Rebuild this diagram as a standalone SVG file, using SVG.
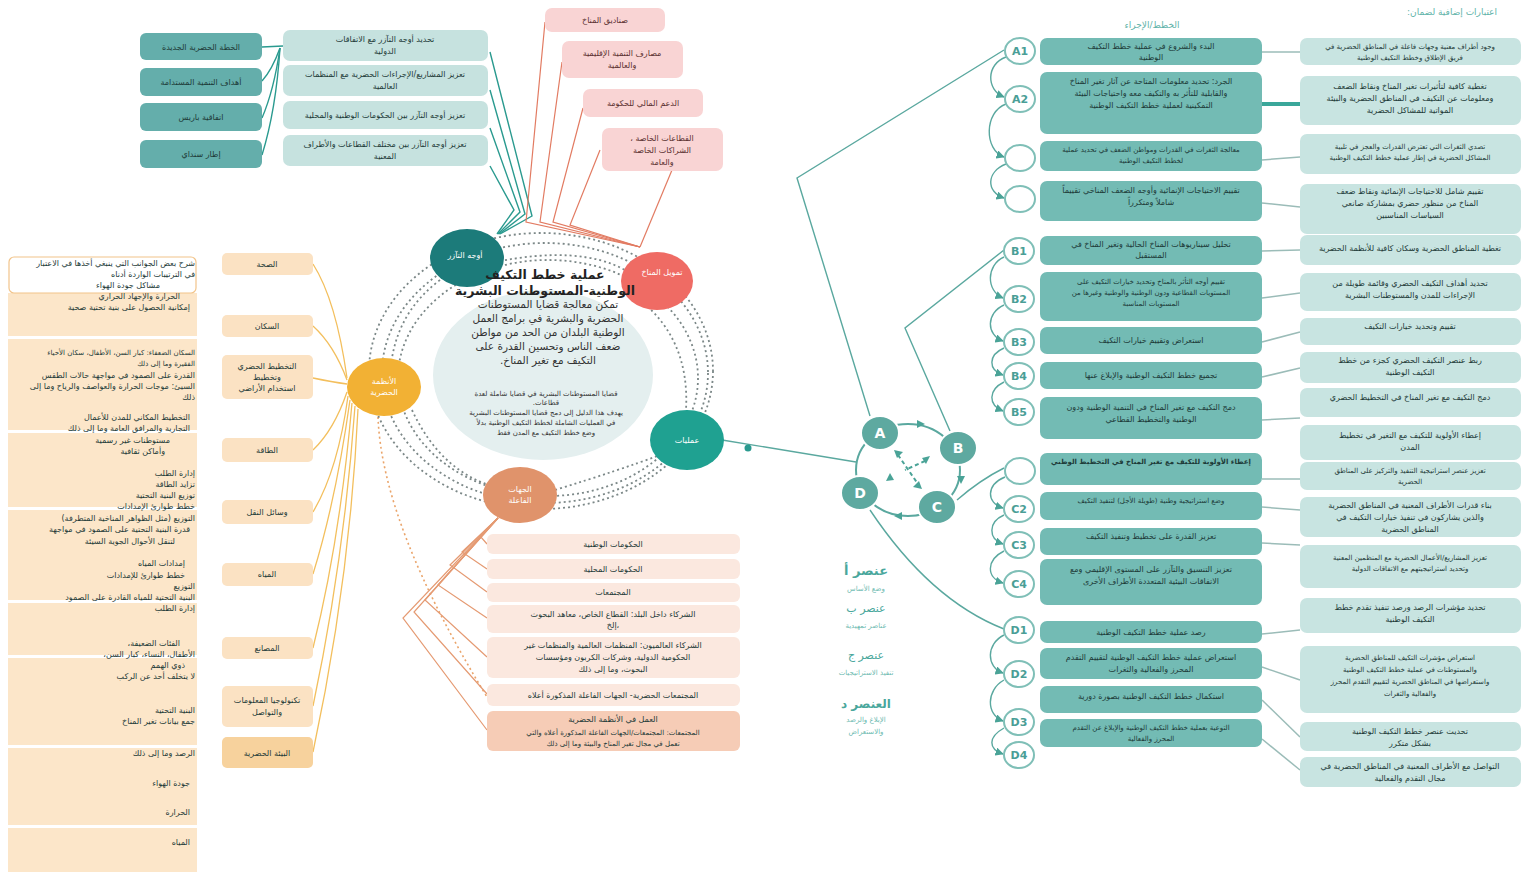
<svg xmlns="http://www.w3.org/2000/svg" width="1529" height="872" viewBox="0 0 1529 872">
<defs>
<style>
text{font-family:"DejaVu Sans","Noto Sans",sans-serif;direction:rtl;}
.c{text-anchor:middle;}
.r{text-anchor:start;}
.s7{font-size:7px;}
.s8{font-size:8px;}
.s9{font-size:9px;}
.dk{fill:#1d3a38;}
.wt{fill:#ffffff;}
.dt{fill:#64aeab;}
.lt{fill:#c6e2df;}
.pk{fill:#f9d4d4;}
.mid{fill:#73bbb4;}
.rb{fill:#c8e4e1;}
.bb{fill:#fbe8df;}
.lb{fill:#fbe2c3;}
.col{fill:#fce6c9;}
.lab{fill:#ffffff;stroke:#7fbfb7;stroke-width:2;}
.labt{font-size:11px;font-weight:bold;fill:#4a9e96;text-anchor:middle;direction:ltr;}
.dot{fill:none;stroke:#7c8888;stroke-width:1.8;stroke-dasharray:2 3;}
.tl{fill:none;stroke:#2a9a8f;stroke-width:1.4;}
.pl{fill:none;stroke:#e27b62;stroke-width:1.2;}
.yl{fill:none;stroke:#f3bf5d;stroke-width:1.3;}
.ol{fill:none;stroke:#e59a72;stroke-width:1.2;}
.gl{fill:none;stroke:#9bbcb8;stroke-width:1.5;}
.rl{fill:none;stroke:#5aa89f;stroke-width:1.4;}
.loop{fill:none;stroke:#5aa89f;stroke-width:1.4;marker-end:url(#ah);}
.node{fill:#5ea9a0;stroke:#ffffff;stroke-width:2;}
.nodet{font-size:14px;font-weight:bold;fill:#ffffff;text-anchor:middle;direction:ltr;}
</style>
<marker id="ah" viewBox="0 0 10 10" refX="9" refY="5" markerWidth="6" markerHeight="6" orient="auto-start-reverse"><path d="M0,0 L10,5 L0,10 z" fill="#4aa397"/></marker>
</defs>
<rect width="1529" height="872" fill="#ffffff"/>

<!-- connectors -->
<g id="connectors">
 <path class="tl" d="M262,47 L283,46"/>
 <path class="tl" d="M262,81 Q272,70 280,48"/>
 <path class="tl" d="M262,118 Q274,90 280,48"/>
 <path class="tl" d="M262,155 Q276,110 280,48"/>
 <path class="tl" d="M490,52 L532,216 L500,234"/>
 <path class="tl" d="M490,90 L525,214 L499,234"/>
 <path class="tl" d="M490,128 L520,212 L498,234"/>
 <path class="tl" d="M490,166 L514,210 L497,234"/>
 <path class="pl" d="M545,22 L526,222 L640,247"/>
 <path class="pl" d="M562,62 L540,222 L640,247"/>
 <path class="pl" d="M583,108 L553,222 L640,247"/>
 <path class="pl" d="M600,150 L570,225 L640,247"/>
 <path class="pl" d="M672,170 L640,247"/>
 <path class="yl" d="M313,264 Q336,300 347,378"/>
 <path class="yl" d="M313,326 Q334,345 347,380"/>
 <path class="yl" d="M313,378 Q332,382 347,384"/>
 <path class="yl" d="M313,450 Q334,430 347,392"/>
 <path class="yl" d="M313,512 Q338,470 348,396"/>
 <path class="yl" d="M313,574 Q336,500 350,400"/>
 <path class="yl" d="M313,648 Q340,540 352,403"/>
 <path class="yl" d="M313,706 Q344,560 355,406"/>
 <path class="yl" d="M313,752 Q350,580 358,409"/>
 <path fill="none" stroke="#eaa46a" stroke-width="1.6" stroke-dasharray="2 3" d="M378,417 Q382,525 487,697"/>
 <path class="ol" d="M498,518 L480,536 L487,544"/>
 <path class="ol" d="M498,518 L462,552 L487,569"/>
 <path class="ol" d="M498,518 L450,565 L487,592"/>
 <path class="ol" d="M498,518 L438,585 L487,618"/>
 <path class="ol" d="M498,518 L425,600 L487,657"/>
 <path class="ol" d="M498,518 L414,612 L487,694"/>
 <path class="ol" d="M498,518 L403,618 L487,730"/>
 <ellipse class="dot" cx="545" cy="373" rx="163" ry="130"/>
 <ellipse class="dot" cx="548" cy="378" rx="150" ry="118"/>
 <ellipse class="dot" cx="541" cy="371" rx="172" ry="138"/>
 <path class="dot" d="M640,300 Q690,340 686,410"/>
 <path class="dot" d="M412,410 Q440,470 492,486"/>
 <path class="dot" d="M440,280 Q400,310 392,358"/>
 <path class="dot" d="M555,490 Q620,470 660,455"/>
 <path class="dot" d="M495,262 Q580,245 625,270"/>
 <path class="rl" d="M722,440 L856,462"/>
 <circle cx="748" cy="448" r="3.5" fill="#2a9a8f"/>
 <ellipse cx="908" cy="470" rx="52" ry="46" fill="none" stroke="#5aa89f" stroke-width="2"/>
 <path d="M917,420 L925,424 L917,428 z" fill="#4aa397"/>
 <path d="M957,476 L961,484 L965,476 z" fill="#4aa397"/>
 <path d="M902,512 L894,516 L902,520 z" fill="#4aa397"/>
 <path fill="none" stroke="#4aa397" stroke-width="2" stroke-dasharray="4 3" d="M898,455 L918,484"/>
 <path fill="none" stroke="#4aa397" stroke-width="2" stroke-dasharray="4 3" d="M925,461 L905,470"/>
 <path d="M894,450 L903,452 L897,458 z" fill="#4aa397"/>
 <path d="M922,489 L913,487 L919,481 z" fill="#4aa397"/>
 <path d="M930,456 L926,464 L922,458 z" fill="#4aa397"/>
 <path d="M886,481 L890,473 L894,480 z" fill="#4aa397"/>
 <path class="rl" d="M870,416 L797,178 L1004,50"/>
 <path class="rl" d="M950,431 L905,328 L1004,250"/>
 <path class="rl" d="M957,500 Q980,480 1004,468"/>
 <path class="rl" d="M870,510 Q930,600 1004,629"/>
 <path class="loop" d="M1006,57 C986,64 986,90 1004,97"/>
 <path class="loop" d="M1006,104 C984,112 984,150 1004,157"/>
 <path class="loop" d="M1006,164 C986,172 986,192 1004,198"/>
 <path class="loop" d="M1004,257 C986,265 986,291 1003,298"/>
 <path class="loop" d="M1004,305 C986,313 986,335 1003,341"/>
 <path class="loop" d="M1004,348 C988,355 988,370 1003,375"/>
 <path class="loop" d="M1004,382 C988,390 988,405 1003,411"/>
 <path class="loop" d="M1005,477 C986,485 986,503 1003,508"/>
 <path class="loop" d="M1004,515 C988,522 988,539 1003,544"/>
 <path class="loop" d="M1004,551 C986,560 986,578 1003,583"/>
 <path class="loop" d="M1004,635 C986,644 986,667 1003,673"/>
 <path class="loop" d="M1004,680 C986,690 986,715 1003,721"/>
 <path class="loop" d="M1004,728 C988,737 988,749 1003,754"/>
 <path class="gl" d="M1262,52 L1300,52"/>
 <path d="M1262,104 L1300,104" stroke="#3aa79a" stroke-width="4"/>
 <path class="gl" d="M1262,160 L1300,157"/>
 <path class="gl" d="M1262,203 L1300,207"/>
 <path class="gl" d="M1262,251 L1300,250"/>
 <path class="gl" d="M1262,298 L1300,293"/>
 <path class="gl" d="M1262,342 L1300,332"/>
 <path class="gl" d="M1262,377 L1300,368"/>
 <path class="gl" d="M1262,420 L1300,418"/>
 <path class="gl" d="M1262,479 L1300,479"/>
 <path class="gl" d="M1262,507 L1300,510"/>
 <path class="gl" d="M1262,543 L1300,545"/>
 <path class="gl" d="M1262,634 L1300,630"/>
 <path class="gl" d="M1262,667 L1300,680"/>
 <path class="gl" d="M1262,700 L1300,737"/>
 <path class="gl" d="M1262,739 L1300,770"/>
</g>

<g id="agreements">
 <rect class="dt" x="140" y="33" width="122" height="27" rx="6"/>
 <text class="c s8 dk" x="201" y="50">الخطة الحضرية الجديدة</text>
 <rect class="dt" x="140" y="68" width="122" height="28" rx="6"/>
 <text class="c s8 dk" x="201" y="85">أهداف التنمية المستدامة</text>
 <rect class="dt" x="140" y="103" width="122" height="28" rx="6"/>
 <text class="c s8 dk" x="201" y="120">اتفاقية باريس</text>
 <rect class="dt" x="140" y="140" width="122" height="28" rx="6"/>
 <text class="c s8 dk" x="201" y="157">إطار سنداي</text>
</g>
<g id="synergy-items">
 <rect class="lt" x="283" y="30" width="205" height="31" rx="7"/>
 <text class="c s8 dk" x="385" y="42">تحديد أوجه التآزر مع الاتفاقات</text>
 <text class="c s8 dk" x="385" y="54">الدولية</text>
 <rect class="lt" x="283" y="65" width="205" height="31" rx="7"/>
 <text class="c s8 dk" x="385" y="77">تعزيز المشاريع/الإجراءات الحضرية مع المنظمات</text>
 <text class="c s8 dk" x="385" y="89">العالمية</text>
 <rect class="lt" x="283" y="101" width="205" height="28" rx="7"/>
 <text class="c s8 dk" x="385" y="118">تعزيز أوجه التآزر بين الحكومات الوطنية والمحلية</text>
 <rect class="lt" x="283" y="135" width="205" height="31" rx="7"/>
 <text class="c s8 dk" x="385" y="147">تعزيز أوجه التآزر بين مختلف القطاعات والأطراف</text>
 <text class="c s8 dk" x="385" y="159">المعنية</text>
</g>
<g id="finance-items">
 <rect class="pk" x="545" y="8" width="120" height="24" rx="7"/>
 <text class="c s8" fill="#5a3030" x="605" y="23">صناديق المناخ</text>
 <rect class="pk" x="562" y="41" width="121" height="37" rx="7"/>
 <text class="c s8" fill="#5a3030" x="622" y="56">مصارف التنمية الإقليمية</text>
 <text class="c s8" fill="#5a3030" x="622" y="68">والعالمية</text>
 <rect class="pk" x="583" y="89" width="120" height="28" rx="7"/>
 <text class="c s8" fill="#5a3030" x="643" y="106">الدعم المالي للحكومة</text>
 <rect class="pk" x="602" y="128" width="121" height="43" rx="7"/>
 <text class="c s8" fill="#5a3030" x="662" y="141">القطاعات الخاصة ،</text>
 <text class="c s8" fill="#5a3030" x="662" y="153">الشراكات الخاصة</text>
 <text class="c s8" fill="#5a3030" x="662" y="165">والعامة</text>
</g>

<g id="center-disc">
 <ellipse cx="543" cy="375" rx="110" ry="85" fill="#e4efef"/>
</g>
<g id="node-synergy">
 <ellipse cx="467" cy="258" rx="37" ry="29" fill="#1c7b7a"/>
 <text class="c s8 wt" x="465" y="258">أوجه التآزر</text>
</g>
<g id="node-finance">
 <ellipse cx="657" cy="281" rx="36" ry="29" fill="#ef6b64"/>
 <text class="c s8 wt" x="662" y="275">تمويل المناخ</text>
</g>
<g id="node-operations">
 <ellipse cx="687" cy="440" rx="37" ry="30" fill="#1fa191"/>
 <text class="c s8 wt" x="687" y="443">عمليات</text>
</g>
<g id="node-actors">
 <ellipse cx="520" cy="495" rx="37" ry="28" fill="#e0936b"/>
 <text class="c s8 wt" x="520" y="492">الجهات</text>
 <text class="c s8 wt" x="520" y="503">الفاعلة</text>
</g>
<g id="node-urban">
 <ellipse cx="384" cy="387" rx="37" ry="29" fill="#f2b134"/>
 <text class="c s8 wt" x="384" y="384">الأنظمة</text>
 <text class="c s8 wt" x="384" y="395">الحضرية</text>
</g>
<g id="center">
 <text class="c" x="545" y="279" font-size="12.5" font-weight="bold" fill="#222">عملية خطط التكيف</text>
 <text class="c" x="545" y="295" font-size="12.5" font-weight="bold" fill="#222">الوطنية-المستوطنات البشرية</text>
 <text class="c" x="548" y="308" font-size="10.5" fill="#333">تمكن معالجة قضايا المستوطنات</text>
 <text class="c" x="548" y="322" font-size="10.5" fill="#333">الحضرية والبشرية في برامج العمل</text>
 <text class="c" x="548" y="336" font-size="10.5" fill="#333">الوطنية البلدان من الحد من مواطن</text>
 <text class="c" x="548" y="350" font-size="10.5" fill="#333">ضعف الناس وتحسين القدرة على</text>
 <text class="c" x="548" y="364" font-size="10.5" fill="#333">التكيف مع تغير المناخ.</text>
 <text class="c s7" x="546" y="396" fill="#333">قضايا المستوطنات البشرية في قضايا شاملة لعدة</text>
 <text class="c s7" x="546" y="405" fill="#333">قطاعات.</text>
 <text class="c s7" x="546" y="415" fill="#333">يهدف هذا الدليل إلى دمج قضايا المستوطنات البشرية</text>
 <text class="c s7" x="546" y="425" fill="#333">في العمليات الشاملة لخطط التكيف الوطنية بدلاً</text>
 <text class="c s7" x="546" y="435" fill="#333">وضع خطط التكيف مع المدن فقط</text>
</g>

<g id="urban-labels">
 <rect class="lb" x="222" y="253" width="91" height="22" rx="5"/>
 <text class="c s8 dk" x="267" y="267">الصحة</text>
 <rect class="lb" x="222" y="315" width="91" height="22" rx="5"/>
 <text class="c s8 dk" x="267" y="329">السكان</text>
 <rect class="lb" x="222" y="355" width="91" height="44" rx="5"/>
 <text class="c s8 dk" x="267" y="369">التخطيط الحضري</text>
 <text class="c s8 dk" x="267" y="380">وتخطيط</text>
 <text class="c s8 dk" x="267" y="391">استخدام الأراضي</text>
 <rect class="lb" x="222" y="438" width="91" height="24" rx="5"/>
 <text class="c s8 dk" x="267" y="453">الطاقة</text>
 <rect class="lb" x="222" y="500" width="91" height="24" rx="5"/>
 <text class="c s8 dk" x="267" y="515">وسائل النقل</text>
 <rect class="lb" x="222" y="563" width="91" height="23" rx="5"/>
 <text class="c s8 dk" x="267" y="577">المياه</text>
 <rect class="lb" x="222" y="637" width="91" height="22" rx="5"/>
 <text class="c s8 dk" x="267" y="651">المصانع</text>
 <rect class="lb" x="222" y="686" width="91" height="41" rx="5"/>
 <text class="c s8 dk" x="267" y="703">تكنولوجيا المعلومات</text>
 <text class="c s8 dk" x="267" y="715">والتواصل</text>
 <rect x="222" y="737" width="91" height="31" rx="5" fill="#f7d29d"/>
 <text class="c s8 dk" x="267" y="756">البيئة الحضرية</text>
</g>

<g id="urban-details">
 <rect class="col" x="8" y="293" width="189" height="43"/>
 <rect class="col" x="8" y="339" width="189" height="91"/>
 <rect class="col" x="8" y="433" width="189" height="74"/>
 <rect class="col" x="8" y="510" width="189" height="90"/>
 <rect class="col" x="8" y="603" width="189" height="52"/>
 <rect class="col" x="8" y="658" width="189" height="87"/>
 <rect class="col" x="8" y="748" width="189" height="77"/>
 <rect class="col" x="8" y="828" width="189" height="44"/>
 <rect x="9" y="257" width="187" height="36" rx="5" fill="#ffffff" stroke="#f2c48a" stroke-width="1.2"/>
 <text class="r s8 dk" x="195" y="266">شرح بعض الجوانب التي ينبغي أخذها في الاعتبار</text>
 <text class="r s8 dk" x="195" y="277">في الترتيبات الواردة أدناه</text>
 <text class="r s8 dk" x="160" y="288">مشاكل جودة الهواء</text>
 <text class="r s8 dk" x="180" y="299">الحرارة والإجهاد الحراري</text>
 <text class="r s8 dk" x="190" y="310">إمكانية الحصول على بنية تحتية صحية</text>
 <text class="r s7 dk" x="195" y="355">السكان الضعفاء: كبار السن، الأطفال، سكان الأحياء</text>
 <text class="r s7 dk" x="195" y="366">الفقيرة وما إلى ذلك</text>
 <text class="r s8 dk" x="195" y="378">القدرة على الصمود في مواجهة حالات الطقس</text>
 <text class="r s8 dk" x="195" y="389">السيئ: موجات الحرارة والعواصف والرياح وما إلى</text>
 <text class="r s8 dk" x="195" y="400">ذلك</text>
 <text class="r s8 dk" x="190" y="420">التخطيط المكاني للمدن للأعمال</text>
 <text class="r s8 dk" x="190" y="431">التجارية والمرافق العامة وما إلى ذلك</text>
 <text class="r s8 dk" x="170" y="443">مستوطنات غير رسمية</text>
 <text class="r s8 dk" x="165" y="454">وأماكن ثقافية</text>
 <text class="r s8 dk" x="195" y="476">إدارة الطلب</text>
 <text class="r s8 dk" x="195" y="487">تزايد الطاقة</text>
 <text class="r s8 dk" x="195" y="498">توزيع البنية التحتية</text>
 <text class="r s8 dk" x="195" y="509">خطط طوارئ الإمدادات</text>
 <text class="r s8 dk" x="195" y="521">التوزيع (مثل الظواهر المناخية المتطرفة)</text>
 <text class="r s8 dk" x="190" y="532">قدرة البنية التحتية على الصمود في مواجهة</text>
 <text class="r s8 dk" x="175" y="544">لتنقل الأحوال الجوية السيئة</text>
 <text class="r s8 dk" x="185" y="566">إمدادات المياه</text>
 <text class="r s8 dk" x="185" y="578">خطط طوارئ للإمدادات</text>
 <text class="r s8 dk" x="195" y="589">التوزيع</text>
 <text class="r s8 dk" x="195" y="600">البنية التحتية للمياه القادرة على الصمود</text>
 <text class="r s8 dk" x="195" y="611">إدارة الطلب</text>
 <text class="r s8 dk" x="180" y="646">الفئات الضعيفة،</text>
 <text class="r s8 dk" x="195" y="657">الأطفال، النساء، كبار السن،</text>
 <text class="r s8 dk" x="185" y="668">ذوي الهمم</text>
 <text class="r s8 dk" x="195" y="679">لا يتخلف أحد عن الركب</text>
 <text class="r s8 dk" x="195" y="713">البنية التحتية</text>
 <text class="r s8 dk" x="195" y="724">جمع بيانات تغير المناخ</text>
 <text class="r s8 dk" x="195" y="756">الرصد وما إلى ذلك</text>
 <text class="r s8 dk" x="190" y="786">جودة الهواء</text>
 <text class="r s8 dk" x="190" y="815">الحرارة</text>
 <text class="r s8 dk" x="190" y="845">المياه</text>
</g>

<g id="actors-list">
 <rect class="bb" x="487" y="534" width="253" height="20" rx="6"/>
 <text class="c s8 dk" x="613" y="547">الحكومات الوطنية</text>
 <rect class="bb" x="487" y="559" width="253" height="20" rx="6"/>
 <text class="c s8 dk" x="613" y="572">الحكومات المحلية</text>
 <rect class="bb" x="487" y="583" width="253" height="19" rx="6"/>
 <text class="c s8 dk" x="613" y="595">المجتمعات</text>
 <rect class="bb" x="487" y="605" width="253" height="28" rx="6"/>
 <text class="c s8 dk" x="613" y="617">الشركاء داخل البلد: القطاع الخاص، معاهد البحوث</text>
 <text class="c s8 dk" x="613" y="628">،إلخ</text>
 <rect class="bb" x="487" y="637" width="253" height="41" rx="6"/>
 <text class="c s8 dk" x="613" y="648">الشركاء العالميون: المنظمات العالمية والمنظمات غير</text>
 <text class="c s8 dk" x="613" y="660">الحكومية الدولية، وشركات الكربون ومؤسسات</text>
 <text class="c s8 dk" x="613" y="672">البحوث، وما إلى ذلك</text>
 <rect class="bb" x="487" y="684" width="253" height="22" rx="6"/>
 <text class="c s8 dk" x="613" y="698">المجتمعات الحضرية- الجهات الفاعلة المذكورة أعلاه</text>
 <rect x="487" y="711" width="253" height="40" rx="6" fill="#f6ccb6"/>
 <text class="c s8 dk" x="613" y="722">العمل في الأنظمة الحضرية</text>
 <text class="c s7 dk" x="613" y="735">المجتمعات: المجتمعات/الجهات الفاعلة المذكورة أعلاه والتي</text>
 <text class="c s7 dk" x="613" y="746">تعمل في مجال تغير المناخ والبيئة وما إلى ذلك</text>
</g>

<g id="ring-A"><ellipse class="node" cx="880" cy="433" rx="19" ry="17"/><text class="nodet" x="880" y="438">A</text></g>
<g id="ring-B"><ellipse class="node" cx="958" cy="448" rx="19" ry="17"/><text class="nodet" x="958" y="453">B</text></g>
<g id="ring-C"><ellipse class="node" cx="937" cy="507" rx="19" ry="17"/><text class="nodet" x="937" y="512">C</text></g>
<g id="ring-D"><ellipse class="node" cx="860" cy="493" rx="19" ry="17"/><text class="nodet" x="860" y="498">D</text></g>

<g id="legend">
 <text class="c" x="866" y="575" font-size="13" font-weight="bold" fill="#4aa79c">عنصر أ</text>
 <text class="c s7" x="866" y="591" fill="#6dbab0">وضع الأساس</text>
 <text class="c" x="866" y="612" font-size="11" fill="#4aa79c">عنصر ب</text>
 <text class="c s7" x="866" y="628" fill="#6dbab0">عناصر تمهيدية</text>
 <text class="c" x="866" y="659" font-size="11" fill="#4aa79c">عنصر ج</text>
 <text class="c s7" x="866" y="675" fill="#6dbab0">تنفيذ الاستراتيجيات</text>
 <text class="c" x="866" y="708" font-size="12" font-weight="bold" fill="#4aa79c">العنصر د</text>
 <text class="c s7" x="866" y="722" fill="#6dbab0">الإبلاغ والرصد</text>
 <text class="c s7" x="866" y="734" fill="#6dbab0">والاستعراض</text>
</g>

<text class="c s9" x="1152" y="28" fill="#5fb3a9">الخطط/الإجراء</text>
<text class="r s9" x="1497" y="15" fill="#5fb3a9">اعتبارات إضافية لضمان:</text>

<g id="step-labels">
 <ellipse class="lab" cx="1020" cy="51" rx="15" ry="13"/><text class="labt" x="1020" y="55">A1</text>
 <ellipse class="lab" cx="1020" cy="99" rx="15" ry="13"/><text class="labt" x="1020" y="103">A2</text>
 <ellipse class="lab" cx="1020" cy="158" rx="15" ry="13"/>
 <ellipse class="lab" cx="1020" cy="199" rx="15" ry="13"/>
 <ellipse class="lab" cx="1019" cy="251" rx="15" ry="13"/><text class="labt" x="1019" y="255">B1</text>
 <ellipse class="lab" cx="1019" cy="299" rx="15" ry="13"/><text class="labt" x="1019" y="303">B2</text>
 <ellipse class="lab" cx="1019" cy="342" rx="15" ry="13"/><text class="labt" x="1019" y="346">B3</text>
 <ellipse class="lab" cx="1019" cy="376" rx="15" ry="13"/><text class="labt" x="1019" y="380">B4</text>
 <ellipse class="lab" cx="1019" cy="412" rx="15" ry="13"/><text class="labt" x="1019" y="416">B5</text>
 <ellipse class="lab" cx="1020" cy="471" rx="15" ry="13"/>
 <ellipse class="lab" cx="1019" cy="509" rx="15" ry="13"/><text class="labt" x="1019" y="513">C2</text>
 <ellipse class="lab" cx="1019" cy="545" rx="15" ry="13"/><text class="labt" x="1019" y="549">C3</text>
 <ellipse class="lab" cx="1019" cy="584" rx="15" ry="13"/><text class="labt" x="1019" y="588">C4</text>
 <ellipse class="lab" cx="1019" cy="630" rx="15" ry="13"/><text class="labt" x="1019" y="634">D1</text>
 <ellipse class="lab" cx="1019" cy="674" rx="15" ry="13"/><text class="labt" x="1019" y="678">D2</text>
 <ellipse class="lab" cx="1019" cy="722" rx="15" ry="13"/><text class="labt" x="1019" y="726">D3</text>
 <ellipse class="lab" cx="1019" cy="755" rx="15" ry="13"/><text class="labt" x="1019" y="759">D4</text>
</g>

<g id="steps">
 <rect class="mid" x="1040" y="38" width="222" height="27" rx="7"/>
 <text class="c s8 dk" x="1151" y="49">البدء والشروع في عملية خطط التكيف</text>
 <text class="c s8 dk" x="1151" y="60">الوطنية</text>
 <rect class="mid" x="1040" y="72" width="222" height="62" rx="7"/>
 <text class="c s8 dk" x="1151" y="84">الجرد: تحديد معلومات المتاحة عن آثار تغير المناخ</text>
 <text class="c s8 dk" x="1151" y="96">والقابلية للتأثر به والتكيف معه واحتياجات البيئة</text>
 <text class="c s8 dk" x="1151" y="108">التمكينية لعملية خطط التكيف الوطنية</text>
 <rect class="mid" x="1040" y="141" width="222" height="30" rx="7"/>
 <text class="c s7 dk" x="1151" y="152">معالجة الثغرات في القدرات ومواطن الضعف في تحديد عملية</text>
 <text class="c s7 dk" x="1151" y="163">لخطط التكيف الوطنية</text>
 <rect class="mid" x="1040" y="181" width="222" height="40" rx="7"/>
 <text class="c s8 dk" x="1151" y="193">تقييم الاحتياجات الإنمائية وأوجه الضعف المناخي تقييماً</text>
 <text class="c s8 dk" x="1151" y="205">شاملاً ومتكرراً</text>
 <rect class="mid" x="1040" y="236" width="222" height="29" rx="7"/>
 <text class="c s8 dk" x="1151" y="247">تحليل سيناريوهات المناخ الحالية وتغير المناخ في</text>
 <text class="c s8 dk" x="1151" y="258">المستقبل</text>
 <rect class="mid" x="1040" y="272" width="222" height="49" rx="7"/>
 <text class="c s7 dk" x="1151" y="284">تقييم أوجه التأثر بالمناخ وتحديد خيارات التكيف على</text>
 <text class="c s7 dk" x="1151" y="295">المستويات القطاعية ودون الوطنية والوطنية وغيرها من</text>
 <text class="c s7 dk" x="1151" y="306">المستويات المناسبة</text>
 <rect class="mid" x="1040" y="327" width="222" height="27" rx="7"/>
 <text class="c s8 dk" x="1151" y="343">استعراض وتقييم خيارات التكيف</text>
 <rect class="mid" x="1040" y="362" width="222" height="27" rx="7"/>
 <text class="c s8 dk" x="1151" y="378">تجميع خطط التكيف الوطنية والإبلاغ عنها</text>
 <rect class="mid" x="1040" y="397" width="222" height="42" rx="7"/>
 <text class="c s8 dk" x="1151" y="410">دمج التكيف مع تغير المناخ في التنمية الوطنية ودون</text>
 <text class="c s8 dk" x="1151" y="422">الوطنية والتخطيط القطاعي</text>
 <rect class="mid" x="1040" y="453" width="222" height="32" rx="7"/>
 <text class="c s7 dk" x="1151" y="464" font-weight="bold">إعطاء الأولوية للتكيف مع تغير المناخ في التخطيط الوطني</text>
 <rect class="mid" x="1040" y="492" width="222" height="28" rx="7"/>
 <text class="c s7 dk" x="1151" y="503">وضع استراتيجية وطنية (طويلة الأجل) لتنفيذ التكيف</text>
 <rect class="mid" x="1040" y="528" width="222" height="27" rx="7"/>
 <text class="c s8 dk" x="1151" y="539">تعزيز القدرة على تخطيط وتنفيذ التكيف</text>
 <rect class="mid" x="1040" y="559" width="222" height="46" rx="7"/>
 <text class="c s8 dk" x="1151" y="572">تعزيز التنسيق والتآزر على المستوى الإقليمي ومع</text>
 <text class="c s8 dk" x="1151" y="584">الاتفاقات البيئية المتعددة الأطراف الأخرى</text>
 <rect class="mid" x="1040" y="621" width="222" height="22" rx="7"/>
 <text class="c s8 dk" x="1151" y="635">رصد عملية خطط التكيف الوطنية</text>
 <rect class="mid" x="1040" y="648" width="222" height="31" rx="7"/>
 <text class="c s8 dk" x="1151" y="660">استعراض عملية خطط التكيف الوطنية لتقييم التقدم</text>
 <text class="c s8 dk" x="1151" y="672">المحرز والفعالية والثغرات</text>
 <rect class="mid" x="1040" y="686" width="222" height="27" rx="7"/>
 <text class="c s8 dk" x="1151" y="699">استكمال خطط التكيف الوطنية بصورة دورية</text>
 <rect class="mid" x="1040" y="719" width="222" height="28" rx="7"/>
 <text class="c s7 dk" x="1151" y="730">التوعية بعملية خطط التكيف الوطنية والإبلاغ عن التقدم</text>
 <text class="c s7 dk" x="1151" y="741">المحرز والفعالية</text>
</g>

<g id="considerations">
 <rect class="rb" x="1300" y="38" width="221" height="27" rx="7"/>
 <text class="c s7 dk" x="1410" y="49">وجود أطراف معنية وجهات فاعلة في المناطق الحضرية في</text>
 <text class="c s7 dk" x="1410" y="60">فريق الإطلاق وخطط التكيف الوطنية</text>
 <rect class="rb" x="1300" y="76" width="221" height="49" rx="7"/>
 <text class="c s8 dk" x="1410" y="89">تغطية كافية لتأثيرات تغير المناخ ونقاط الضعف</text>
 <text class="c s8 dk" x="1410" y="101">ومعلومات عن التكيف في المناطق الحضرية والبيئة</text>
 <text class="c s8 dk" x="1410" y="113">المواتية للمشاكل الحضرية</text>
 <rect class="rb" x="1300" y="134" width="221" height="40" rx="7"/>
 <text class="c s7 dk" x="1410" y="149">تصدي الثغرات التي تعترض القدرات والعجز في تلبية</text>
 <text class="c s7 dk" x="1410" y="160">المشاكل الحضرية في إطار عملية خطط التكيف الوطنية</text>
 <rect class="rb" x="1300" y="184" width="221" height="50" rx="7"/>
 <text class="c s8 dk" x="1410" y="194">تقييم شامل للاحتياجات الإنمائية ونقاط ضعف</text>
 <text class="c s8 dk" x="1410" y="206">المناخ من منظور حضري بمشاركة صانعي</text>
 <text class="c s8 dk" x="1410" y="218">السياسات المناسبين</text>
 <rect class="rb" x="1300" y="235" width="221" height="30" rx="7"/>
 <text class="c s8 dk" x="1410" y="251">تغطية المناطق الحضرية وسكان كافية للأنظمة الحضرية</text>
 <rect class="rb" x="1300" y="273" width="221" height="38" rx="7"/>
 <text class="c s8 dk" x="1410" y="286">تحديد أهداف التكيف الحضري وقائمة طويلة من</text>
 <text class="c s8 dk" x="1410" y="298">الإجراءات للمدن والمستوطنات البشرية</text>
 <rect class="rb" x="1300" y="318" width="221" height="27" rx="7"/>
 <text class="c s8 dk" x="1410" y="329">تقييم وتحديد خيارات التكيف</text>
 <rect class="rb" x="1300" y="352" width="221" height="31" rx="7"/>
 <text class="c s8 dk" x="1410" y="363">ربط عنصر التكيف الحضري كجزء من خطط</text>
 <text class="c s8 dk" x="1410" y="375">التكيف الوطنية</text>
 <rect class="rb" x="1300" y="388" width="221" height="29" rx="7"/>
 <text class="c s8 dk" x="1410" y="400">دمج التكيف مع تغير المناخ في التخطيط الحضري</text>
 <rect class="rb" x="1300" y="425" width="221" height="35" rx="7"/>
 <text class="c s8 dk" x="1410" y="438">إعطاء الأولوية للتكيف مع التغير في تخطيط</text>
 <text class="c s8 dk" x="1410" y="450">المدن</text>
 <rect class="rb" x="1300" y="462" width="221" height="28" rx="7"/>
 <text class="c s7 dk" x="1410" y="473">تعزيز عنصر استراتيجية التنفيذ والتركيز على المناطق</text>
 <text class="c s7 dk" x="1410" y="484">الحضرية</text>
 <rect class="rb" x="1300" y="497" width="221" height="40" rx="7"/>
 <text class="c s8 dk" x="1410" y="508">بناء قدرات الأطراف المعنية في المناطق الحضرية</text>
 <text class="c s8 dk" x="1410" y="520">والذين يشاركون في تنفيذ خيارات التكيف في</text>
 <text class="c s8 dk" x="1410" y="532">المناطق الحضرية</text>
 <rect class="rb" x="1300" y="545" width="221" height="43" rx="7"/>
 <text class="c s7 dk" x="1410" y="560">تعزيز المشاريع/الأعمال الحضرية مع المنظمين المعنية</text>
 <text class="c s7 dk" x="1410" y="571">وتحديد استراتيجيتهم مع الاتفاقات الدولية</text>
 <rect class="rb" x="1300" y="598" width="221" height="35" rx="7"/>
 <text class="c s8 dk" x="1410" y="610">تحديد مؤشرات الرصد ورصد تنفيذ تقدم خطط</text>
 <text class="c s8 dk" x="1410" y="622">التكيف الوطنية</text>
 <rect class="rb" x="1300" y="646" width="221" height="67" rx="7"/>
 <text class="c s7 dk" x="1410" y="660">استعراض مؤشرات التكيف للمناطق الحضرية</text>
 <text class="c s7 dk" x="1410" y="672">والمستوطنات في عملية خطط التكيف الوطنية</text>
 <text class="c s7 dk" x="1410" y="684">واستعراضها في المناطق الحضرية لتقييم التقدم المحرز</text>
 <text class="c s7 dk" x="1410" y="696">والفعالية والثغرات</text>
 <rect class="rb" x="1300" y="722" width="221" height="29" rx="7"/>
 <text class="c s8 dk" x="1410" y="734">تحديث عنصر خطط التكيف الوطنية</text>
 <text class="c s8 dk" x="1410" y="746">بشكل متكرر</text>
 <rect class="rb" x="1300" y="757" width="221" height="30" rx="7"/>
 <text class="c s8 dk" x="1410" y="769">التواصل مع الأطراف المعنية في المناطق الحضرية في</text>
 <text class="c s8 dk" x="1410" y="781">مجال التقدم والفعالية</text>
</g>
</svg>
